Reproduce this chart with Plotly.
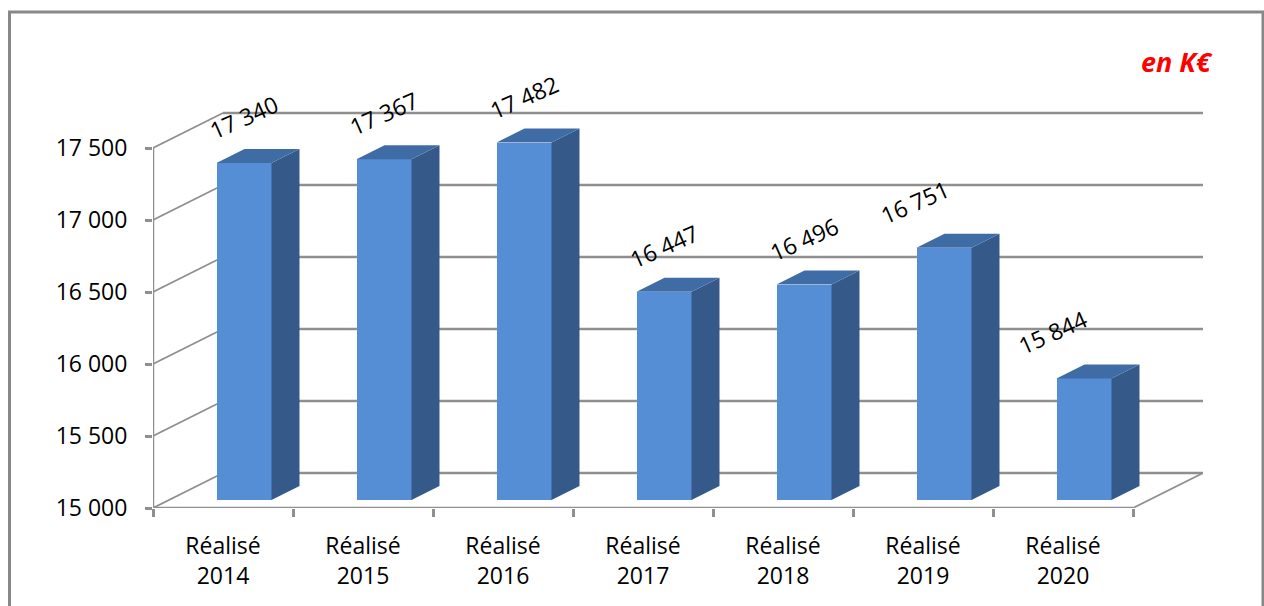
import plotly.graph_objects as go

# Annual realised amounts (K€)
years = ["2014", "2015", "2016", "2017", "2018", "2019", "2020"]
category_prefix = "Réalisé"
values = [17340, 17367, 17482, 16447, 16496, 16751, 15844]
y_ticks = [15000, 15500, 16000, 16500, 17000, 17500]
y_tick_text = ["15 000", "15 500", "16 000", "16 500", "17 000", "17 500"]

# Pixel geometry of the figure
W, H = 1264, 606
ML, MR, MT, MB = 153, 61, 60, 98
PX_PER_CAT = 140.0          # horizontal pixels per category
PX_PER_UNIT = 0.144         # vertical pixels per K€
Y0 = 15000

def dxu(px):
    return px / PX_PER_CAT

def dyu(px):
    return px / PX_PER_UNIT

n = len(years)
x_lo, x_hi = -0.5, n - 0.5
WALL_DX, WALL_DY = dxu(70), dyu(35)        # depth of the box
BAR_DX0, BAR_DY0 = dxu(16), dyu(8)         # bar front plane offset
BAR_DX, BAR_DY = dxu(28), dyu(14)          # bar depth
BAR_W = dxu(55)
BAR_SHIFT = dxu(-6.5) + BAR_W / 2

# horizontal nudges of the value labels (pixels), last two sit left of their bars
LABEL_XSHIFT = {5: -29, 6: -31}

y_top = Y0 + (H - MT - MB) / PX_PER_UNIT

GRID = "#8f8f8f"
FRONT = "#558ed5"
SIDE = "#355a89"
TOP = "#406ca5"
FONT = "Open Sans, Lato, sans-serif"

fig = go.Figure()

# Front faces of the bars
centers = [i + BAR_SHIFT for i in range(n)]
base = Y0 + BAR_DY0
fig.add_trace(go.Bar(
    x=centers,
    y=[v + BAR_DY0 - base for v in values],
    base=base,
    width=BAR_W,
    marker=dict(color=FRONT, line=dict(width=0)),
    hoverinfo="skip",
    showlegend=False,
))

# Side and top faces
for c, v in zip(centers, values):
    xl, xr = c - BAR_W / 2, c + BAR_W / 2
    top = v + BAR_DY0
    fig.add_trace(go.Scatter(
        x=[xr, xr + BAR_DX, xr + BAR_DX, xr, xr],
        y=[base, base + BAR_DY, top + BAR_DY, top, base],
        fill="toself", fillcolor=SIDE, mode="lines",
        line=dict(width=0, color=SIDE), hoverinfo="skip", showlegend=False,
    ))
    fig.add_trace(go.Scatter(
        x=[xl, xl + BAR_DX, xr + BAR_DX, xr, xl],
        y=[top, top + BAR_DY, top + BAR_DY, top, top],
        fill="toself", fillcolor=TOP, mode="lines",
        line=dict(width=0, color=TOP), hoverinfo="skip", showlegend=False,
    ))

shapes = []
# Back wall gridlines and left wall diagonals
for v in y_ticks:
    shapes.append(dict(type="line", layer="below", x0=x_lo + WALL_DX, x1=x_hi + WALL_DX,
                       y0=v + WALL_DY, y1=v + WALL_DY, line=dict(color=GRID, width=2.5)))
    shapes.append(dict(type="line", layer="below", x0=x_lo, x1=x_lo + WALL_DX,
                       y0=v, y1=v + WALL_DY, line=dict(color=GRID, width=1.8)))
# Floor edges and vertical axis line
shapes.append(dict(type="line", layer="below", x0=x_lo, x1=x_hi, y0=Y0, y1=Y0,
                   line=dict(color=GRID, width=2.5)))
shapes.append(dict(type="line", layer="below", x0=x_hi, x1=x_hi + WALL_DX, y0=Y0, y1=Y0 + WALL_DY,
                   line=dict(color=GRID, width=1.8)))
shapes.append(dict(type="line", layer="below", x0=x_lo, x1=x_lo, y0=Y0, y1=y_ticks[-1],
                   line=dict(color=GRID, width=2.5)))

# Outer frame
pw, ph = W - ML - MR, H - MT - MB
def px_x(px):
    return (px - ML) / pw
def px_y(py):
    return (H - MB - py) / ph
shapes.append(dict(type="rect", xref="paper", yref="paper", layer="below",
                   x0=px_x(9.5), x1=px_x(1263), y0=px_y(620), y1=px_y(12),
                   line=dict(color="#888888", width=3), fillcolor="rgba(0,0,0,0)"))

annotations = []
# Value labels above the bars
for i, (c, v) in enumerate(zip(centers, values)):
    txt = f"{v:,}".replace(",", " ")
    annotations.append(dict(x=c, y=v + BAR_DY0, text=txt, showarrow=False,
                            textangle=-24, yshift=46, xshift=LABEL_XSHIFT.get(i, 0),
                            xanchor="center", yanchor="middle",
                            font=dict(family=FONT, size=23, color="black")))
# Unit label
annotations.append(dict(x=px_x(1177), y=px_y(62), xref="paper", yref="paper",
                        text="<b><i>en K€</i></b>", showarrow=False,
                        xanchor="center", yanchor="middle",
                        font=dict(family=FONT, size=27, color="#ff0000")))

fig.update_layout(
    width=W, height=H,
    margin=dict(l=ML, r=MR, t=MT, b=MB, pad=0),
    paper_bgcolor="white", plot_bgcolor="white",
    shapes=shapes, annotations=annotations,
    showlegend=False, bargap=0,
    xaxis=dict(
        range=[x_lo, x_hi + WALL_DX], showgrid=False, zeroline=False, showline=False,
        tickvals=list(range(n)),
        ticktext=[f"{category_prefix}<br>{y}" for y in years],
        ticks="", ticklabelstandoff=22,
        tickfont=dict(family=FONT, size=23, color="black"),
        minor=dict(tickvals=[x_lo + k for k in range(n + 1)], ticks="outside",
                   ticklen=8, tickwidth=2.5, tickcolor=GRID, showgrid=False),
        fixedrange=True,
    ),
    yaxis=dict(
        range=[Y0, y_top], showgrid=False, zeroline=False, showline=False,
        tickvals=y_ticks, ticktext=y_tick_text,
        ticks="outside", ticklen=7, tickwidth=2.5, tickcolor=GRID,
        ticklabelstandoff=13,
        tickfont=dict(family=FONT, size=23, color="black"),
        fixedrange=True,
    ),
)

fig.write_html("out.html")
